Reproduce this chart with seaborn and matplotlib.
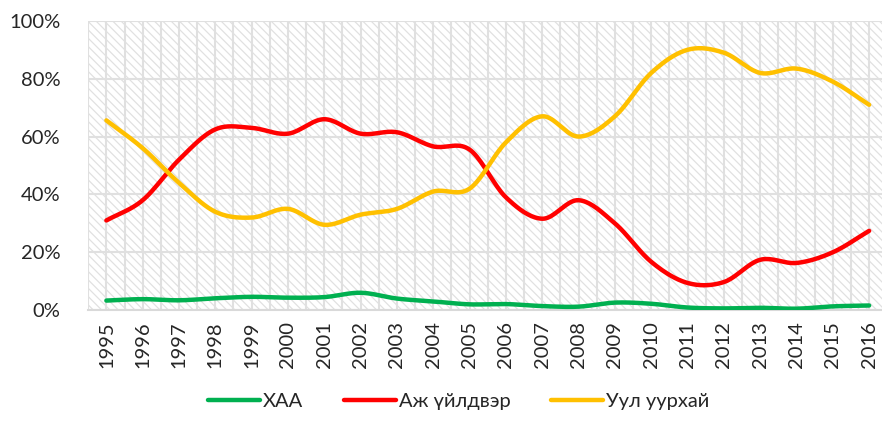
import numpy as np
import pandas as pd
import matplotlib
matplotlib.use("Agg")
import matplotlib.pyplot as plt
import seaborn as sns
from matplotlib.patches import Rectangle
from matplotlib.lines import Line2D
from matplotlib.ticker import MultipleLocator, PercentFormatter

# data (shares, %)
years = list(range(1995, 2017))
haa = [3.3, 3.8, 3.4, 4.1, 4.6, 4.3, 4.5, 6.0, 4.0, 3.0, 2.0, 2.1,
       1.4, 1.2, 2.6, 2.2, 0.9, 0.6, 0.8, 0.5, 1.3, 1.6]
industry = [31, 38, 52, 62.5, 63, 61, 66, 61, 61.5, 56.6, 55.5, 39,
            31.6, 38, 30, 16.7, 9.4, 9.7, 17.4, 16.3, 20, 27.4]
mining = [65.6, 56, 44, 34, 32, 35, 29.5, 33, 35, 41, 42, 58,
          67, 60, 67, 82, 90, 89, 82, 83.5, 79, 71]
labels = ["ХАА", "Аж үйлдвэр", "Уул уурхай"]
colors = ["#00B050", "#FF0000", "#FFC000"]


def smooth(x, y, n=20):
    # catmull-rom style smoothing, like excel "smoothed line"
    x = np.asarray(x, float)
    y = np.asarray(y, float)
    px = np.concatenate([[2 * x[0] - x[1]], x, [2 * x[-1] - x[-2]]])
    py = np.concatenate([[2 * y[0] - y[1]], y, [2 * y[-1] - y[-2]]])
    xs, ys = [], []
    t = np.linspace(0, 1, n, endpoint=False)
    for i in range(1, len(px) - 2):
        for arr, out in ((px, xs), (py, ys)):
            p0, p1, p2, p3 = arr[i - 1], arr[i], arr[i + 1], arr[i + 2]
            out.extend(0.5 * ((2 * p1) + (-p0 + p2) * t
                              + (2 * p0 - 5 * p1 + 4 * p2 - p3) * t ** 2
                              + (-p0 + 3 * p1 - 3 * p2 + p3) * t ** 3))
    xs.append(x[-1])
    ys.append(y[-1])
    return np.array(xs), np.array(ys)


sns.set_style("white")
plt.rcParams["font.family"] = ["Lato", "DejaVu Sans"]
plt.rcParams["hatch.linewidth"] = 0.9

fig = plt.figure(figsize=(8.82, 4.26), dpi=100)
ax = fig.add_axes([0.1, 0.272, 0.906, 0.679])

idx = np.arange(len(years))
frames = []
for name, vals in zip(labels, [haa, industry, mining]):
    sx, sy = smooth(idx, vals)
    frames.append(pd.DataFrame({"x": sx, "y": sy, "series": name}))
df = pd.concat(frames, ignore_index=True)

sns.lineplot(data=df, x="x", y="y", hue="series", palette=colors,
             linewidth=3.2, sort=False, estimator=None, legend=False,
             solid_capstyle="round", ax=ax, zorder=3)

ax.set_xlim(-0.5, len(years) - 0.5)
ax.set_ylim(0, 100)

# hatched background
bg = Rectangle((0, 0), 1, 1, transform=ax.transAxes, facecolor="white",
               edgecolor="#e1e1e1", hatch="\\\\\\\\", linewidth=0, zorder=0)
ax.add_patch(bg)

ax.set_xticks(idx)
ax.set_xticklabels(years, rotation=90, fontsize=14.5)
ax.xaxis.set_minor_locator(MultipleLocator(0.5))
ax.yaxis.set_major_locator(MultipleLocator(20))
ax.yaxis.set_major_formatter(PercentFormatter(decimals=0))
ax.tick_params(axis="y", labelsize=14.5, pad=20, length=0)
ax.tick_params(axis="x", which="both", length=0, pad=8)
ax.grid(True, which="major", color="#e0e0e0", linewidth=1.5, zorder=1)
ax.grid(True, which="minor", axis="x", color="#e0e0e0", linewidth=1.5, zorder=1)
ax.set_axisbelow(True)
ax.set_xlabel("")
ax.set_ylabel("")
for s in ["top", "right", "left"]:
    ax.spines[s].set_visible(False)
ax.spines["bottom"].set_color("#d9d9d9")
ax.spines["bottom"].set_linewidth(1.5)

handles = [Line2D([0], [0], color=c, lw=3.2, solid_capstyle="round") for c in colors]
fig.legend(handles, labels, loc="lower center", bbox_to_anchor=(0.52, -0.005),
           ncol=3, frameon=False, fontsize=14.5, handlelength=2.6,
           handletextpad=0.15, columnspacing=2.0)

fig.savefig("out.png", dpi=100)
